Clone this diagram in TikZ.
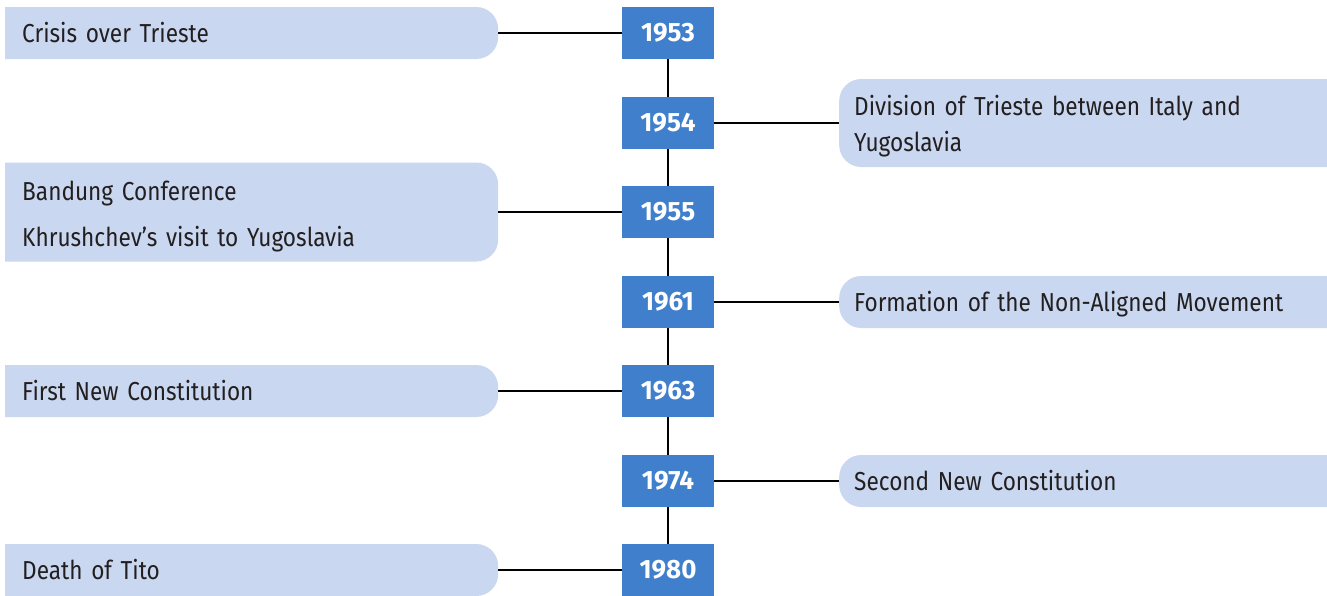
\documentclass[tikz,border=0pt]{standalone}
\usepackage{fontspec}
\setmainfont{Fira Sans}[FakeStretch=0.87]
\newfontfamily\yearfont{Fira Sans}[FakeStretch=0.98]
\definecolor{yearblue}{HTML}{3F7FCC}
\definecolor{evfill}{HTML}{C9D8F0}
\definecolor{evtext}{HTML}{231F20}
\newcommand{\firstln}[1]{\rule{0pt}{#1}}
\newcommand{\lastln}{\rule[-7pt]{0pt}{7pt}}
\tikzset{
  yearbox/.style={rectangle, fill=yearblue, text=white, minimum width=92pt,
    minimum height=52pt, inner sep=0pt, font=\yearfont\fontsize{26.5}{30}\selectfont\bfseries},
  evbase/.style={rectangle, anchor=west, fill=white, inner ysep=0pt, align=left,
    text=evtext, font=\fontsize{26}{30}\selectfont},
  oneline/.style={minimum height=52pt, text height=18pt, text depth=0pt},
  leftev/.style={evbase, minimum width=493pt, text width=459pt, inner xsep=17pt,
    path picture={\fill[evfill, rounded corners=22pt]
      ([xshift=-40pt]path picture bounding box.south west) rectangle
      (path picture bounding box.north east);}},
  rightev/.style={evbase, minimum width=488pt, text width=458pt, inner xsep=15pt,
    path picture={\fill[evfill, rounded corners=22pt]
      (path picture bounding box.south west) rectangle
      ([xshift=40pt]path picture bounding box.north east);}},
  link/.style={draw=black, line width=2pt}
}
\begin{document}
\begin{tikzpicture}[x=1pt, y=-1pt]
\fill[white] (0,0) rectangle (1327,595);
\useasboundingbox (0,0) rectangle (1327,595);
% year boxes
\node[yearbox] (y53) at (668,33) {1953};
\node[yearbox] (y54) at (668,123) {1954};
\node[yearbox] (y55) at (668,212) {1955};
\node[yearbox] (y61) at (668,302) {1961};
\node[yearbox] (y63) at (668,391) {1963};
\node[yearbox] (y74) at (668,481) {1974};
\node[yearbox] (y80) at (668,570) {1980};
% left events
\node[leftev, oneline] (e53) at (5,33) {Crisis over Trieste};
\node[leftev, minimum height=99pt] (e55) at (5,212) {\firstln{29pt}Bandung Conference\\[16pt]Khrushchev’s visit to Yugoslavia\lastln};
\node[leftev, oneline] (e63) at (5,391) {First New Constitution};
\node[leftev, oneline] (e80) at (5,570) {Death of Tito};
% right events
\node[rightev, minimum height=88pt] (e54) at (839,123) {\firstln{27pt}Division of Trieste between Italy and\\[6pt]Yugoslavia\lastln};
\node[rightev, oneline] (e61) at (839,302) {Formation of the Non-Aligned Movement};
\node[rightev, oneline] (e74) at (839,481) {Second New Constitution};
% connectors
\draw[link] (e53.east) -- (y53.west);
\draw[link] (e55.east) -- (y55.west);
\draw[link] (e63.east) -- (y63.west);
\draw[link] (e80.east) -- (y80.west);
\draw[link] (y54.east) -- (e54.west);
\draw[link] (y61.east) -- (e61.west);
\draw[link] (y74.east) -- (e74.west);
\draw[link] (y53.south) -- (y54.north);
\draw[link] (y54.south) -- (y55.north);
\draw[link] (y55.south) -- (y61.north);
\draw[link] (y61.south) -- (y63.north);
\draw[link] (y63.south) -- (y74.north);
\draw[link] (y74.south) -- (y80.north);
\end{tikzpicture}
\end{document}
